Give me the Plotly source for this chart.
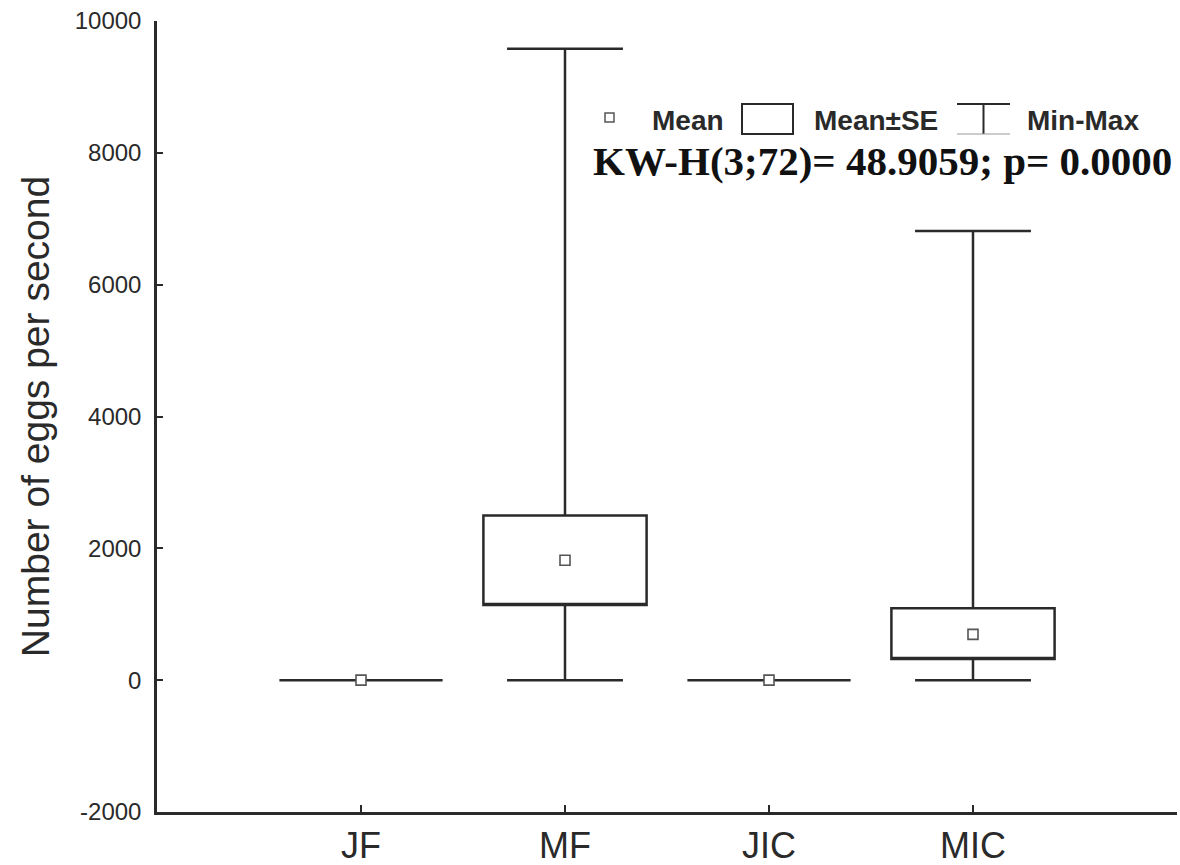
import plotly.graph_objects as go

# ---- data ----
categories = ["JF", "MF", "JIC", "MIC"]
positions = [0, 1, 2, 3]
means = [0, 1820, 0, 695]
se_low = [0, 1140, 0, 320]
se_high = [0, 2500, 0, 1090]
mins = [0, 0, 0, 0]
maxs = [0, 9580, 0, 6815]
y_ticks = [-2000, 0, 2000, 4000, 6000, 8000, 10000]

INK = "#2a2a2a"
W, H = 1180, 865
L, R, T, B = 157, 3, 21, 53


def px(xp):
    return (xp - L) / (W - L - R)


def py(yp):
    return (H - B - yp) / (H - T - B)


fig = go.Figure()

fig.add_trace(go.Box(
    x=positions,
    q1=se_low,
    median=se_low,
    q3=se_high,
    lowerfence=mins,
    upperfence=maxs,
    width=0.8,
    whiskerwidth=0.71,
    fillcolor="white",
    line=dict(color=INK, width=2.5),
    boxpoints=False,
    hoverinfo="skip",
    showlegend=False,
))

fig.add_trace(go.Scatter(
    x=positions,
    y=means,
    mode="markers",
    marker=dict(symbol="square", size=10, color="white",
                line=dict(color="#555", width=1.6)),
    showlegend=False,
    hoverinfo="skip",
))

fig.update_layout(
    width=W, height=H,
    margin=dict(l=L, r=R, t=T, b=B, autoexpand=False),
    paper_bgcolor="white",
    plot_bgcolor="white",
    showlegend=False,
    font=dict(family="Liberation Sans, Arial, sans-serif", color=INK),
)

fig.update_xaxes(
    range=[-1, 4],
    automargin=False,
    tickmode="array",
    tickvals=positions + [4],
    ticktext=categories + [""],
    ticks="inside",
    ticklen=7,
    tickwidth=2,
    tickcolor=INK,
    showline=True,
    linecolor=INK,
    linewidth=2.5,
    showgrid=False,
    zeroline=False,
    tickfont=dict(size=36, color=INK),
    ticklabelstandoff=0,
)

fig.update_yaxes(
    range=[-2000, 10000],
    automargin=False,
    tickmode="array",
    tickvals=y_ticks,
    ticktext=[str(v) for v in y_ticks],
    ticks="inside",
    ticklen=6,
    tickwidth=2,
    tickcolor=INK,
    showline=True,
    linecolor=INK,
    linewidth=2.5,
    showgrid=False,
    zeroline=False,
    tickfont=dict(size=24, color=INK),
    ticklabelstandoff=8,
    title=dict(text="Number of eggs per second", font=dict(size=39, color=INK), standoff=14),
)

# ---- legend (custom, Statistica style) ----
shapes = []
# mean symbol
shapes.append(dict(type="rect", xref="paper", yref="paper",
                   x0=px(605), x1=px(614), y0=py(122), y1=py(113),
                   line=dict(color="#555", width=1.5), fillcolor="white"))
# box symbol
shapes.append(dict(type="rect", xref="paper", yref="paper",
                   x0=px(742), x1=px(793), y0=py(134), y1=py(104),
                   line=dict(color=INK, width=2), fillcolor="white"))
# whisker symbol
shapes.append(dict(type="line", xref="paper", yref="paper",
                   x0=px(957), x1=px(1010), y0=py(104), y1=py(104),
                   line=dict(color=INK, width=2)))
shapes.append(dict(type="line", xref="paper", yref="paper",
                   x0=px(983.5), x1=px(983.5), y0=py(104), y1=py(134),
                   line=dict(color=INK, width=2)))
shapes.append(dict(type="line", xref="paper", yref="paper",
                   x0=px(957), x1=px(1010), y0=py(134), y1=py(134),
                   line=dict(color="#999", width=1)))
fig.update_layout(shapes=shapes)

legend_items = [("Mean", 688), ("Mean\u00b1SE", 876), ("Min-Max", 1083)]
for txt, xc in legend_items:
    fig.add_annotation(text=f"<b>{txt}</b>", xref="paper", yref="paper",
                       x=px(xc), y=py(121), xanchor="center", yanchor="middle",
                       showarrow=False, font=dict(size=28, color=INK))

fig.add_annotation(text="<b>KW-H(3;72)= 48.9059; p= 0.0000</b>",
                   xref="paper", yref="paper",
                   x=px(882), y=py(161), xanchor="center", yanchor="middle",
                   showarrow=False,
                   font=dict(size=41, color="#111",
                             family="Liberation Serif, Times New Roman, serif"))

fig.write_html(
    "out.html",
    config={"displayModeBar": False},
    post_script="document.body.style.margin='0';document.body.style.overflow='hidden';",
)
